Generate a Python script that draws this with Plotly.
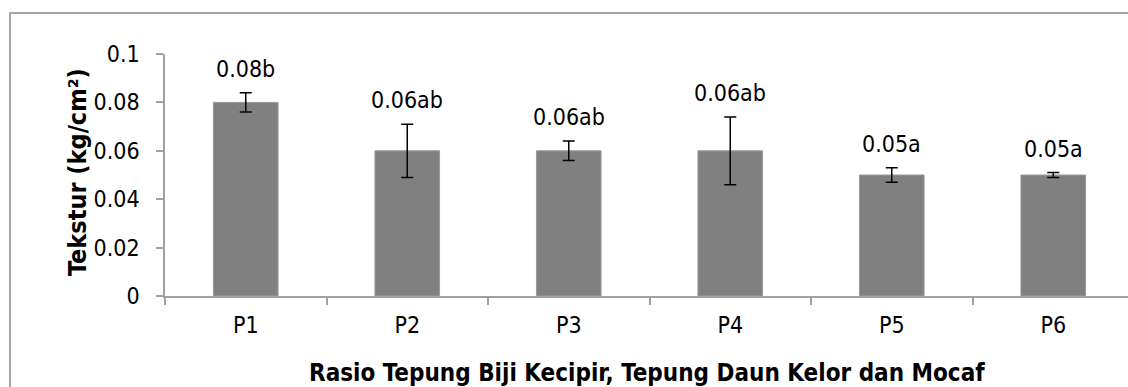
import plotly.graph_objects as go

categories = ["P1", "P2", "P3", "P4", "P5", "P6"]
values = [0.08, 0.06, 0.06, 0.06, 0.05, 0.05]
errors = [0.004, 0.011, 0.004, 0.014, 0.003, 0.001]
labels = ["0.08b", "0.06ab", "0.06ab", "0.06ab", "0.05a", "0.05a"]
y_ticks = [0, 0.02, 0.04, 0.06, 0.08, 0.1]
y_ticktext = ["0", "0.02", "0.04", "0.06", "0.08", "0.1"]
x_title = "Rasio Tepung Biji Kecipir, Tepung Daun Kelor dan Mocaf"
y_title = "Tekstur (kg/cm²)"

W, H = 1128, 387
ML, MR, MT, MB = 165, 0, 54, 91
PW, PH = W - ML - MR, H - MT - MB

FONT = "DejaVu Sans Condensed, DejaVu Sans"
AXIS_COL = "#A0A0A0"
FS = 23

fig = go.Figure()
fig.add_trace(go.Bar(
    x=categories, y=values, width=0.4,
    marker=dict(color="#808080", line=dict(color="#9A9A9A", width=1)),
    error_y=dict(type="data", array=errors, visible=True, color="black",
                 thickness=1.5, width=6),
    hoverinfo="skip",
))

for c, v, e, t in zip(categories, values, errors, labels):
    fig.add_annotation(x=c, y=v + e, text=t, showarrow=False, yanchor="bottom",
                       yshift=9, font=dict(family=FONT, size=FS, color="black"))

fig.add_annotation(xref="paper", yref="paper", x=0.5, y=0, yanchor="middle",
                   xanchor="center", yshift=-77, text="<b>" + x_title + "</b>",
                   showarrow=False, font=dict(family=FONT, size=24, color="black"))
fig.add_annotation(xref="paper", yref="paper", x=0, y=0.5, xanchor="center",
                   yanchor="middle", xshift=-88, yshift=3, textangle=-90,
                   text="<b>" + y_title + "</b>", showarrow=False,
                   font=dict(family=FONT, size=25, color="black"))

# outer chart border (cropped at right and bottom like the reference)
fig.add_shape(type="rect", xref="paper", yref="paper",
              x0=(10 - ML) / PW, x1=1.05, y0=-(MB + 20) / PH, y1=(H - 13 - MB) / PH,
              line=dict(color="#A6A6A6", width=2), fillcolor="rgba(0,0,0,0)", layer="below")

n = len(categories)
cat_px = 161.5
fig.update_layout(
    template="none",
    width=W, height=H, margin=dict(l=ML, r=MR, t=MT, b=MB, pad=0, autoexpand=False),
    paper_bgcolor="white", plot_bgcolor="white", showlegend=False,
    font=dict(family=FONT, size=FS, color="black"),
    xaxis=dict(range=[-0.5, -0.5 + PW / cat_px], showgrid=False, automargin=False,
               showline=True, linecolor=AXIS_COL, linewidth=1.5,
               ticks="outside", tickson="boundaries", ticklen=7, tickcolor=AXIS_COL,
               tickwidth=1.5, tickfont=dict(family=FONT, size=FS, color="black"),
               ticklabelstandoff=8, zeroline=False),
    yaxis=dict(range=[0, 0.1], tickvals=y_ticks, ticktext=y_ticktext, showgrid=False,
               automargin=False,
               showline=True, linecolor=AXIS_COL, linewidth=1.5,
               ticks="outside", ticklen=7, tickcolor=AXIS_COL, tickwidth=1.5,
               tickfont=dict(family=FONT, size=FS, color="black"),
               ticklabelstandoff=12, zeroline=False),
)

fig.write_html("out.html", config={"displayModeBar": False},
               post_script="document.body.style.margin='0';document.body.style.overflow='hidden';")
